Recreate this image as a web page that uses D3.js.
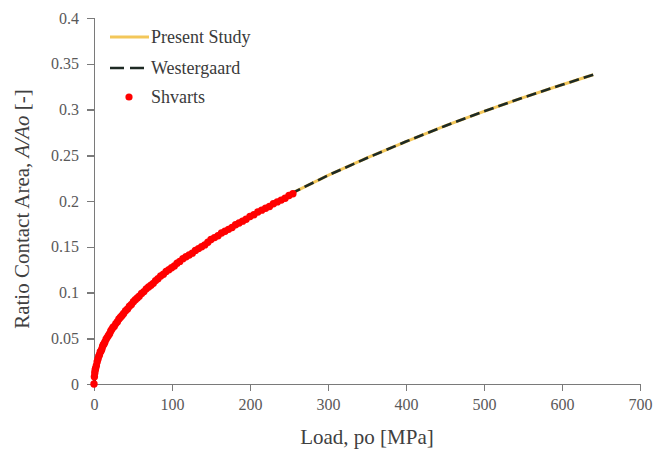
<!DOCTYPE html>
<html lang="en">
<head>
    <meta charset="UTF-8">
    <title>Contact area vs load</title>
    <style>
    body { margin: 0; background: #fff; }
    .axis path,
    .axis line {
        fill: none;
        stroke: #7a7a7a;
        stroke-width: 1.5;
        shape-rendering: crispEdges;
    }
    .axis text {
        font-family: "Liberation Serif", "Times New Roman", serif;
        font-size: 16px;
        fill: #595959;
    }
    .title {
        font-family: "Liberation Serif", "Times New Roman", serif;
        font-size: 21px;
        fill: #404040;
        text-anchor: middle;
    }
    .legend text {
        font-family: "Liberation Serif", "Times New Roman", serif;
        font-size: 18px;
        fill: #3a3a3a;
    }
    </style>
</head>
<body>
<script src="https://cdn.jsdelivr.net/npm/d3@7/dist/d3.min.js"></script>
<script>
// load [MPa] vs ratio contact area A/Ao
let presentLoad = [0, 5, 10, 20, 40, 60, 80, 100, 150, 200, 250, 300, 350, 400, 450, 500, 550, 600, 640];
let presentRatio = [0, 0.027, 0.038, 0.055, 0.078, 0.097, 0.114, 0.128, 0.158, 0.184, 0.207, 0.228, 0.247, 0.265, 0.282, 0.298, 0.313, 0.327, 0.338];

let westLoad = [0, 5, 10, 20, 40, 60, 80, 100, 150, 200, 250, 300, 350, 400, 450, 500, 550, 600, 640];
let westRatio = [0, 0.027, 0.038, 0.055, 0.078, 0.097, 0.114, 0.128, 0.158, 0.184, 0.207, 0.228, 0.247, 0.265, 0.282, 0.298, 0.313, 0.327, 0.338];

let shvartsLoad = [0, 0.5, 1, 1.5, 2, 3, 4, 5, 6, 7, 8, 9, 10, 11, 12, 13, 14, 15.5, 17, 18.5, 20, 21.5, 23, 24.5, 26, 28, 30, 32, 34, 36, 38, 40.5, 43, 45.5, 48, 50.5, 53, 55.5, 58, 61, 64, 67, 70, 73, 76, 79, 82, 85.5, 89, 92.5, 96, 99.5, 103, 106.5, 110, 114, 118, 122, 126, 130, 134, 138, 142, 146, 150, 154.5, 159, 163.5, 168, 172.5, 177, 181.5, 186, 190.5, 195, 200, 205, 210, 215, 220, 225, 230, 235, 240, 245, 250, 255];
let shvartsRatio = [0, 0.008, 0.012, 0.015, 0.017, 0.020, 0.024, 0.027, 0.030, 0.032, 0.035, 0.036, 0.038, 0.041, 0.043, 0.044, 0.046, 0.049, 0.051, 0.053, 0.055, 0.058, 0.060, 0.062, 0.063, 0.066, 0.068, 0.071, 0.073, 0.075, 0.077, 0.080, 0.082, 0.085, 0.087, 0.090, 0.092, 0.094, 0.096, 0.099, 0.101, 0.104, 0.106, 0.108, 0.110, 0.113, 0.115, 0.118, 0.120, 0.123, 0.125, 0.127, 0.129, 0.132, 0.134, 0.137, 0.139, 0.141, 0.143, 0.146, 0.148, 0.150, 0.152, 0.155, 0.158, 0.160, 0.162, 0.165, 0.167, 0.169, 0.171, 0.174, 0.176, 0.178, 0.180, 0.183, 0.185, 0.188, 0.190, 0.192, 0.194, 0.197, 0.199, 0.201, 0.203, 0.206, 0.208];

let xTicks = [0, 100, 200, 300, 400, 500, 600, 700];
let yTicks = [0, 0.05, 0.1, 0.15, 0.2, 0.25, 0.3, 0.35, 0.4];

let width = 653, height = 450;
let margin = {left: 94, right: 13, top: 18, bottom: 66};

let svg = d3.select('body').append('svg')
    .attr('width', width)
    .attr('height', height);

let x = d3.scaleLinear().domain([0, 700]).range([margin.left, width - margin.right]);
let y = d3.scaleLinear().domain([0, 0.4]).range([height - margin.bottom, margin.top]);

svg.append('g')
    .attr('class', 'axis')
    .attr('transform', `translate(0, ${y(0)})`)
    .call(d3.axisBottom(x).tickValues(xTicks).tickSize(7).tickPadding(8).tickFormat(d3.format('d')));

svg.append('g')
    .attr('class', 'axis')
    .attr('transform', `translate(${x(0)}, 0)`)
    .call(d3.axisLeft(y).tickValues(yTicks).tickSize(7).tickPadding(8).tickFormat(d => d === 0 ? '0' : String(+d.toFixed(2))));

svg.selectAll('.axis').attr('font-family', null);

let line = d3.line()
    .x(d => x(d[0]))
    .y(d => y(d[1]));

svg.append('path')
    .datum(d3.zip(presentLoad, presentRatio))
    .attr('fill', 'none')
    .attr('stroke', '#f3c75a')
    .attr('stroke-width', 3)
    .attr('d', line);

svg.append('path')
    .datum(d3.zip(westLoad, westRatio))
    .attr('fill', 'none')
    .attr('stroke', '#1e2a24')
    .attr('stroke-width', 2.6)
    .attr('stroke-dasharray', '10,5')
    .attr('d', line);

svg.append('g')
    .selectAll('circle')
    .data(d3.zip(shvartsLoad, shvartsRatio))
    .enter()
    .append('circle')
    .attr('cx', d => x(d[0]))
    .attr('cy', d => y(d[1]))
    .attr('r', 3.7)
    .attr('fill', '#f00');

// axis titles
svg.append('text')
    .attr('class', 'title')
    .attr('x', (x(0) + x(700)) / 2)
    .attr('y', 444)
    .text('Load, po [MPa]');

svg.append('text')
    .attr('class', 'title')
    .attr('transform', `translate(29, ${(y(0) + y(0.4)) / 2 + 8}) rotate(-90)`)
    .html('Ratio Contact Area, <tspan font-style="italic">A/Ao</tspan> [-]');

// legend
let legend = svg.append('g').attr('class', 'legend');

legend.append('line')
    .attr('x1', 110).attr('x2', 149).attr('y1', 37).attr('y2', 37)
    .attr('stroke', '#f3c75a').attr('stroke-width', 3);
legend.append('text').attr('x', 151).attr('y', 43).text('Present Study');

legend.append('line')
    .attr('x1', 110).attr('x2', 149).attr('y1', 68).attr('y2', 68)
    .attr('stroke', '#1e2a24').attr('stroke-width', 2.6)
    .attr('stroke-dasharray', '14,6');
legend.append('text').attr('x', 151).attr('y', 74).text('Westergaard');

legend.append('circle')
    .attr('cx', 129).attr('cy', 97).attr('r', 3.6)
    .attr('fill', '#f00');
legend.append('text').attr('x', 151).attr('y', 103).text('Shvarts');
</script>
</body>
</html>
